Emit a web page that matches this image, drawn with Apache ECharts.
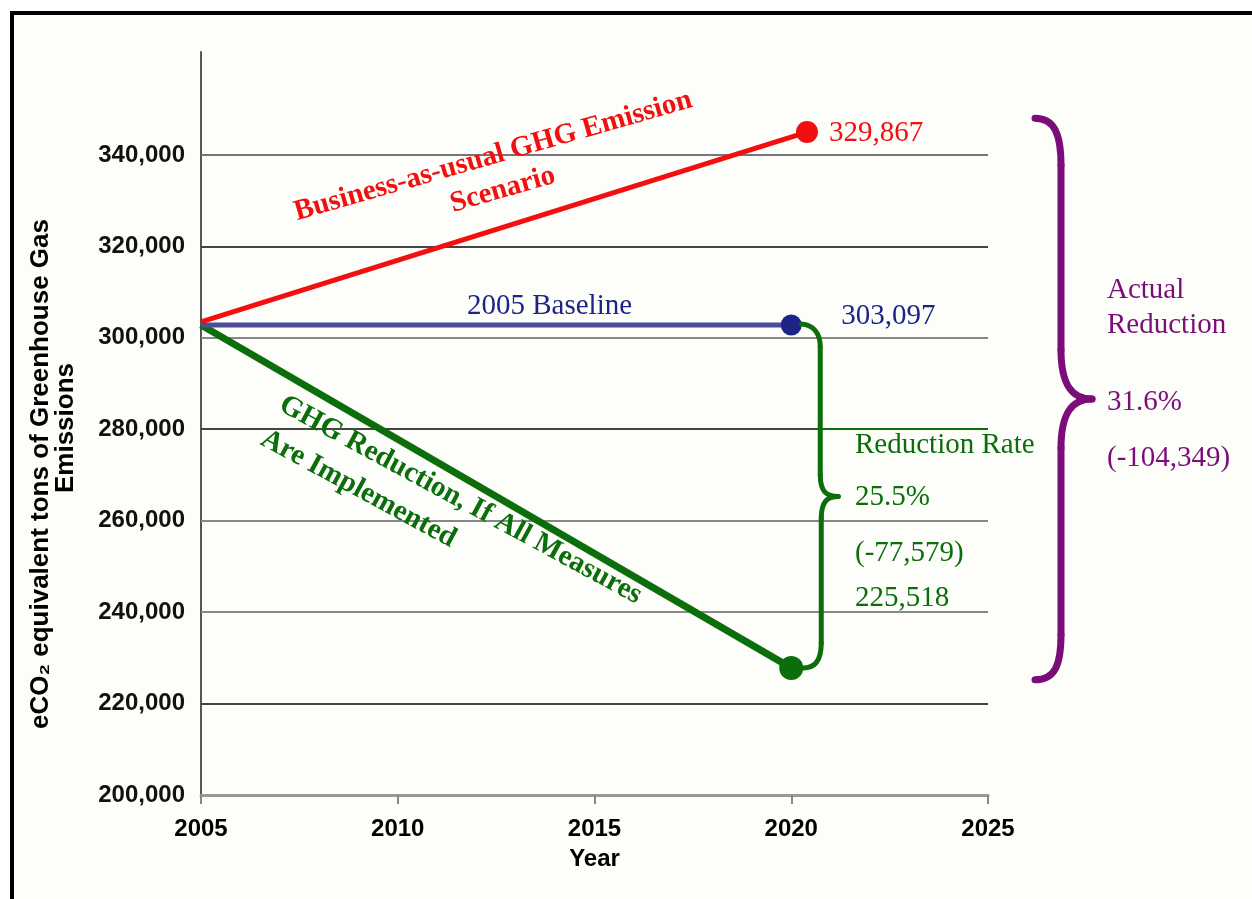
<!DOCTYPE html>
<html><head><meta charset="utf-8">
<script src="https://cdn.jsdelivr.net/npm/echarts@6/dist/echarts.min.js"></script>
<style>
html,body{margin:0;padding:0;background:#fff;}
#frame{position:absolute;left:10px;top:11px;width:1242px;height:888px;border-top:4px solid #000;border-left:4px solid #000;background:#fdfdf9;box-sizing:border-box;}
#chart{position:absolute;left:0;top:0;width:1252px;height:899px;}
</style></head><body>
<div id="frame"></div><div id="chart"></div>
<script>
// ---- data ----
const bauYears = [2005, 2020.4];
const bauValues = [303500, 345000];
const baselineYears = [2005, 2020];
const baselineValues = [302800, 302800];
const reductionYears = [2005, 2020];
const reductionValues = [302800, 227800];
const gridValues = [220000, 240000, 260000, 280000, 300000, 320000, 340000];
const gridColors = ['#444', '#888', '#888', '#444', '#888', '#444', '#777'];
const endLabels = ['329,867', '303,097', '225,518'];
const reductionRateText = ['Reduction Rate', '25.5%', '(-77,579)'];
const actualReductionText = ['Actual', 'Reduction', '31.6%', '(-104,349)'];
const actualBraceSpan = [348000, 225200];
const bauTitle = 'Business-as-usual GHG Emission\nScenario';
const reductionTitle = 'GHG Reduction, If All Measures\nAre Implemented';
const baselineTitle = '2005 Baseline';
const yTitle1 = 'eCO\u2082 equivalent tons of Greenhouse Gas';
const yTitle2 = 'Emissions';

const RED = '#f20f0f', NAVY = '#1c2487', BLUE_LINE = '#4d4d9e', GREEN = '#0b6e0b', PURPLE = '#7b0d7b';
const SERIF = '"Liberation Serif","Times New Roman",serif';
const SANS = '"Liberation Sans",Arial,sans-serif';

const chart = echarts.init(document.getElementById('chart'));

function pts(xs, ys, size) {
  return xs.map((x, i) => i === xs.length - 1
    ? { value: [x, ys[i]], symbol: 'circle', symbolSize: size }
    : { value: [x, ys[i]], symbol: 'none' });
}

const gridMarks = gridValues.map((v, i) => ({ yAxis: v, lineStyle: { color: gridColors[i], width: 2, type: 'solid' } }));
gridMarks.push([{ coord: [2020.6, 280000], lineStyle: { color: GREEN, width: 2, type: 'solid' } }, { coord: [2025, 280000] }]);

const option = {
  animation: false,
  grid: { left: 201, right: 264, top: 52, bottom: 104, containLabel: false },
  xAxis: {
    type: 'value', min: 2005, max: 2025, interval: 5,
    name: 'Year', nameLocation: 'middle', nameGap: 52,
    nameTextStyle: { fontFamily: SANS, fontWeight: 'bold', fontSize: 24, color: '#000' },
    axisLine: { show: true, lineStyle: { color: '#999', width: 3 } },
    axisTick: { show: true, length: 9, lineStyle: { color: '#888', width: 2 } },
    splitLine: { show: false },
    axisLabel: {
      margin: 22, fontFamily: SANS, fontWeight: 'bold', fontSize: 24,
      color: v => v === 2005 ? '#555' : '#000',
      formatter: v => String(v)
    }
  },
  yAxis: {
    type: 'value', min: 200000, max: 362500, interval: 20000,
    axisLine: { show: true, lineStyle: { color: '#555', width: 2 } },
    axisTick: { show: false },
    splitLine: { show: false },
    axisLabel: {
      margin: 16, fontFamily: SANS, fontWeight: 'bold', fontSize: 24, color: '#111',
      formatter: v => v > 340000 ? '' : v.toLocaleString('en-US')
    }
  },
  series: [
    {
      name: 'GHG Reduction', type: 'line', z: 3,
      data: pts(reductionYears, reductionValues, 24),
      lineStyle: { color: GREEN, width: 7 }, itemStyle: { color: GREEN }
    },
    {
      name: '2005 Baseline', type: 'line', z: 3,
      data: pts(baselineYears, baselineValues, 21),
      lineStyle: { color: BLUE_LINE, width: 5 }, itemStyle: { color: NAVY },
      markLine: { silent: true, z: 1, symbol: ['none', 'none'], label: { show: false }, data: gridMarks }
    },
    {
      name: 'Business-as-usual', type: 'line', z: 4,
      data: pts(bauYears, bauValues, 22),
      lineStyle: { color: RED, width: 5 }, itemStyle: { color: RED }
    }
  ]
};
chart.setOption(option);

// ---- annotations ----
function txt(text, x, y, color, opts) {
  opts = opts || {};
  return {
    type: 'text', x: x, y: y, z: 10, rotation: opts.rotation || 0,
    style: {
      text: text, fill: color,
      fontFamily: opts.family || SERIF, fontSize: opts.size || 29,
      fontWeight: opts.weight || 'normal',
      align: opts.align || 'left', textAlign: opts.align || 'left',
      verticalAlign: 'middle', textVerticalAlign: 'middle',
      lineHeight: opts.lineHeight || 34
    }
  };
}
function bez(a, c1, c2, b, color, w) {
  return { type: 'bezierCurve', z: 5, shape: { x1: a[0], y1: a[1], cpx1: c1[0], cpy1: c1[1], cpx2: c2[0], cpy2: c2[1], x2: b[0], y2: b[1] },
    style: { stroke: color, lineWidth: w, fill: null, lineCap: 'round' } };
}
function seg(a, b, color, w) {
  return { type: 'line', z: 5, shape: { x1: a[0], y1: a[1], x2: b[0], y2: b[1] }, style: { stroke: color, lineWidth: w, lineCap: 'round' } };
}

const g = [];
const bauEnd = chart.convertToPixel({ gridIndex: 0 }, [bauYears[1], bauValues[1]]);
const T = chart.convertToPixel({ gridIndex: 0 }, [baselineYears[1], baselineValues[1]]);
const B = chart.convertToPixel({ gridIndex: 0 }, [reductionYears[1], reductionValues[1]]);
const gridRight = chart.convertToPixel({ gridIndex: 0 }, [2025, 200000])[0];
const pTop = chart.convertToPixel({ gridIndex: 0 }, [2025, actualBraceSpan[0]])[1];
const pBot = chart.convertToPixel({ gridIndex: 0 }, [2025, actualBraceSpan[1]])[1];

// green brace
(function () {
  const x = T[0], mid = (T[1] + B[1]) / 2, c = GREEN, w = 5;
  g.push(bez([x + 10, T[1] - 1], [x + 22, T[1]], [x + 29, T[1] + 8], [x + 29, T[1] + 22], c, w));
  g.push(seg([x + 29, T[1] + 22], [x + 29, mid - 22], c, w));
  g.push(bez([x + 29, mid - 22], [x + 29, mid - 5], [x + 35, mid], [x + 47, mid], c, w));
  g.push(bez([x + 47, mid], [x + 36, mid], [x + 30, mid + 5], [x + 30, mid + 22], c, w));
  g.push(seg([x + 30, mid + 22], [x + 30, B[1] - 25], c, w));
  g.push(bez([x + 30, B[1] - 25], [x + 30, B[1] - 5], [x + 22, B[1]], [x + 12, B[1]], c, w));
})();
// purple brace
(function () {
  const L = gridRight + 47, S = gridRight + 73, P = gridRight + 104, mid = (pTop + pBot) / 2, c = PURPLE, w = 7;
  g.push(bez([L, pTop], [L + 20, pTop], [S, pTop + 17], [S, pTop + 47], c, w));
  g.push(seg([S, pTop + 47], [S, mid - 49], c, w));
  g.push(bez([S, mid - 49], [S, mid - 14], [S + 11, mid], [P, mid], c, w));
  g.push(bez([P, mid], [S + 11, mid], [S, mid + 14], [S, mid + 49], c, w));
  g.push(seg([S, mid + 49], [S, pBot - 45], c, w));
  g.push(bez([S, pBot - 45], [S, pBot - 15], [L + 20, pBot], [L, pBot], c, w));
})();

// texts
g.push(txt(bauTitle, 498, 173, RED, { weight: 'bold', align: 'center', rotation: 0.279, lineHeight: 35 }));
g.push(txt(reductionTitle, 272, 420, GREEN, { weight: 'bold', align: 'left', rotation: -0.497, lineHeight: 39 }));
g.push(txt(baselineTitle, 467, 306, NAVY));
g.push(txt(endLabels[0], bauEnd[0] + 22, bauEnd[1] + 1, RED));
g.push(txt(endLabels[1], T[0] + 50, T[1] - 9, NAVY));
g.push(txt(reductionRateText[0], 855, 445, GREEN));
g.push(txt(reductionRateText[1], 855, 497, GREEN));
g.push(txt(reductionRateText[2], 855, 553, GREEN));
g.push(txt(endLabels[2], 855, 598, GREEN));
const purpleY = [290, 325, 402, 458];
actualReductionText.forEach((t, i) => g.push(txt(t, 1107, purpleY[i], PURPLE)));
g.push(txt(yTitle1, 41, 474, '#000', { family: SANS, weight: 'bold', size: 26, align: 'center', rotation: Math.PI / 2 }));
g.push(txt(yTitle2, 66, 428, '#000', { family: SANS, weight: 'bold', size: 26, align: 'center', rotation: Math.PI / 2 }));

chart.setOption({ graphic: { elements: g } });
</script>
</body></html>
